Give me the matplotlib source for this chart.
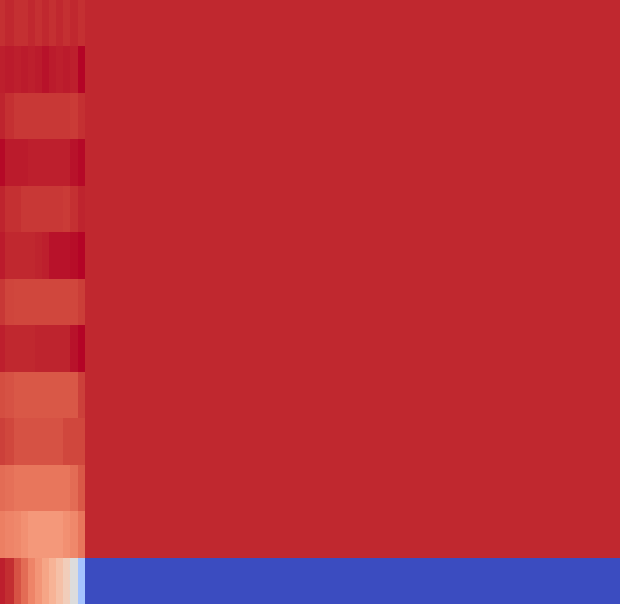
import matplotlib
matplotlib.use("Agg")
import matplotlib.pyplot as plt
import numpy as np

# column widths (first 12 narrow, last one spans the rest), 13 rows
col_widths = [4.7, 9.3, 7, 7, 7, 7, 7, 7, 7, 7, 7.5, 7.5, 535]

# cell values on a 0..1 scale, top row first
row_00 = [0.955, 0.965, 0.955, 0.955, 0.965, 0.955, 0.965, 0.955, 0.965, 0.955, 0.965, 0.955, 0.965]
row_01 = [0.975, 0.98, 0.975, 0.98, 0.975, 0.98, 0.985, 0.98, 0.975, 0.98, 0.975, 1.00, 0.965]
row_02 = [0.97, 0.955, 0.945, 0.945, 0.945, 0.945, 0.945, 0.945, 0.945, 0.945, 0.94, 0.955, 0.965]
row_03 = [0.995, 0.98, 0.98, 0.98, 0.975, 0.975, 0.975, 0.975, 0.975, 0.975, 0.985, 0.995, 0.965]
row_04 = [0.97, 0.955, 0.955, 0.945, 0.945, 0.945, 0.945, 0.945, 0.945, 0.94, 0.955, 0.97, 0.965]
row_05 = [0.98, 0.965, 0.965, 0.965, 0.965, 0.97, 0.975, 0.985, 0.985, 0.985, 0.99, 1.00, 0.965]
row_06 = [0.945, 0.925, 0.92, 0.92, 0.92, 0.92, 0.92, 0.92, 0.92, 0.92, 0.92, 0.935, 0.965]
row_07 = [0.975, 0.965, 0.965, 0.965, 0.965, 0.97, 0.97, 0.97, 0.97, 0.97, 0.985, 1.00, 0.965]
row_08 = [0.91, 0.90, 0.89, 0.89, 0.89, 0.89, 0.89, 0.89, 0.89, 0.89, 0.89, 0.93, 0.965]
row_09 = [0.93, 0.92, 0.90, 0.90, 0.90, 0.90, 0.90, 0.90, 0.90, 0.92, 0.92, 0.92, 0.965]
row_10 = [0.85, 0.84, 0.83, 0.83, 0.83, 0.83, 0.83, 0.83, 0.83, 0.83, 0.85, 0.89, 0.965]
row_11 = [0.81, 0.80, 0.79, 0.77, 0.75, 0.75, 0.75, 0.75, 0.75, 0.77, 0.79, 0.83, 0.965]
row_12 = [0.975, 0.96, 0.90, 0.85, 0.80, 0.76, 0.72, 0.68, 0.64, 0.59, 0.50, 0.32, 0.00]

values = np.array([row_00, row_01, row_02, row_03, row_04, row_05, row_06,
                   row_07, row_08, row_09, row_10, row_11, row_12])

x_edges = np.concatenate([[0], np.cumsum(col_widths)])
y_edges = np.arange(values.shape[0] + 1)

fig = plt.figure(figsize=(6.2, 6.04), dpi=100)
ax = fig.add_axes([0, 0, 1, 1])
ax.pcolormesh(x_edges, y_edges, values, cmap="coolwarm", vmin=0, vmax=1)
ax.set_xlim(x_edges[0], x_edges[-1])
ax.set_ylim(y_edges[-1], y_edges[0])
ax.axis("off")

fig.savefig("out.png", dpi=100)
